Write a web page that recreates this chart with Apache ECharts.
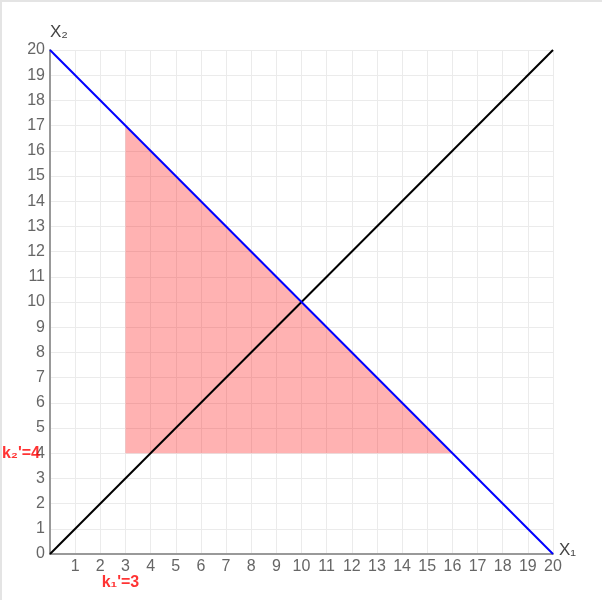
<!DOCTYPE html>
<html>
<head>
<meta charset="utf-8">
<script src="https://cdn.jsdelivr.net/npm/echarts@6/dist/echarts.min.js"></script>
<style>
html,body{margin:0;padding:0;background:#fff;}
#frame{position:absolute;left:0;top:0;width:602px;height:600px;box-sizing:border-box;border-top:2px solid #e4e4e4;border-left:2px solid #e4e4e4;}
#chart{position:absolute;left:0;top:0;width:602px;height:600px;}
</style>
</head>
<body>
<div id="frame"></div>
<div id="chart"></div>
<script>
var axisMin = 0, axisMax = 20, axisStep = 1;
var feasibleRegion = [[3, 4], [3, 17], [16, 4]];
var budgetLine = [[0, 20], [20, 0]];
var diagonalLine = [[0, 0], [20, 20]];
var k2Label = {point: [0, 4], text: "k\u2082'=4"};
var k1Label = {point: [3, 0], text: "k\u2081'=3"};
var xName = 'X\u2081', yName = 'X\u2082';

var chart = echarts.init(document.getElementById('chart'));
var font = 'Liberation Sans, Arial, sans-serif';
var option = {
  animation: false,
  grid: {left: 50, right: 49, top: 50, bottom: 46},
  xAxis: {
    type: 'value', min: axisMin, max: axisMax, interval: axisStep,
    name: xName, nameLocation: 'end', nameGap: 6,
    nameTextStyle: {color: '#444', fontSize: 17, fontFamily: font, align: 'left', verticalAlign: 'bottom', padding: [0, 0, -5, 0]},
    axisLine: {lineStyle: {color: '#999', width: 2}},
    axisTick: {show: false},
    axisLabel: {color: '#666', fontSize: 16, fontFamily: font, margin: 5,
      formatter: function (v) { return v === 0 ? '' : String(v); }},
    splitLine: {show: true, lineStyle: {color: '#ebebeb', width: 1}}
  },
  yAxis: {
    type: 'value', min: axisMin, max: axisMax, interval: axisStep,
    name: yName, nameLocation: 'end', nameGap: 9,
    nameTextStyle: {color: '#444', fontSize: 17, fontFamily: font, align: 'left'},
    axisLine: {lineStyle: {color: '#999', width: 2}},
    axisTick: {show: false},
    axisLabel: {color: '#666', fontSize: 16, fontFamily: font, margin: 5},
    splitLine: {show: true, lineStyle: {color: '#ebebeb', width: 1}}
  },
  series: [
    {
      type: 'custom', z: 1,
      data: [0],
      renderItem: function (params, api) {
        var pts = feasibleRegion.map(function (p) { return api.coord(p); });
        return {type: 'polygon', shape: {points: pts}, style: {fill: 'rgba(255,0,0,0.3)'}};
      }
    },
    {
      type: 'line', data: diagonalLine, symbol: 'none', z: 3,
      lineStyle: {color: '#000', width: 2}
    },
    {
      type: 'line', data: budgetLine, symbol: 'none', z: 4,
      lineStyle: {color: '#0000ff', width: 2}
    },
    {
      type: 'scatter', symbolSize: 0, z: 5, silent: true,
      data: [k2Label.point],
      label: {show: true, position: 'left', distance: 10, formatter: k2Label.text,
        color: '#ff0000', fontWeight: 'bold', fontSize: 16, fontFamily: font}
    },
    {
      type: 'scatter', symbolSize: 0, z: 5, silent: true,
      data: [k1Label.point],
      label: {show: true, position: 'bottom', distance: 21, formatter: k1Label.text,
        color: '#ff0000', fontWeight: 'bold', fontSize: 16, fontFamily: font, offset: [-5, 0]}
    }
  ]
};
chart.setOption(option);
</script>
</body>
</html>
